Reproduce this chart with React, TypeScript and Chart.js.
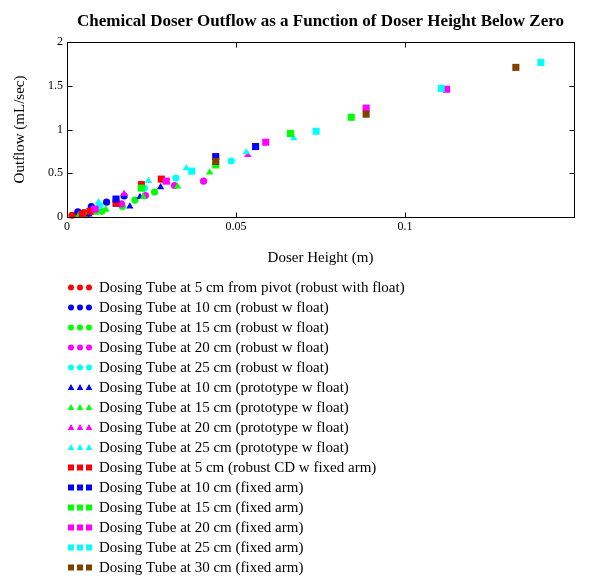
import React, { useEffect, useRef } from "react";
import { Chart, registerables } from "chart.js";

Chart.register(...registerables);

type Pt = { x: number; y: number };
const P = (arr: number[][]): Pt[] => arr.map(([x, y]) => ({ x, y }));

const seriesLabels = [
  "Dosing Tube at 5 cm from pivot (robust with float)",
  "Dosing Tube at 10 cm (robust w float)",
  "Dosing Tube at 15 cm (robust w float)",
  "Dosing Tube at 20 cm (robust w float)",
  "Dosing Tube at 25 cm (robust w float)",
  "Dosing Tube at 10 cm (prototype w float)",
  "Dosing Tube at 15 cm (prototype w float)",
  "Dosing Tube at 20 cm (prototype w float)",
  "Dosing Tube at 25 cm (prototype w float)",
  "Dosing Tube at 5 cm (robust CD w fixed arm)",
  "Dosing Tube at 10 cm (fixed arm)",
  "Dosing Tube at 15 cm (fixed arm)",
  "Dosing Tube at 20 cm (fixed arm)",
  "Dosing Tube at 25 cm (fixed arm)",
  "Dosing Tube at 30 cm (fixed arm)",
];

const seriesColors = [
  "#ff0000", "#0000ff", "#00ff00", "#ff00ff", "#00ffff",
  "#0000ff", "#00ff00", "#ff00ff", "#00ffff",
  "#ff0000", "#0000ff", "#00ff00", "#ff00ff", "#00ffff", "#804000",
];

const seriesShapes = [
  "circle", "circle", "circle", "circle", "circle",
  "triangle", "triangle", "triangle", "triangle",
  "rect", "rect", "rect", "rect", "rect", "rect",
];

const red5Float = P([[0.0015, 0.02], [0.003, 0.03], [0.005, 0.05], [0.007, 0.07]]);
const blue10Float = P([[0.0032, 0.06], [0.0058, 0.03], [0.0072, 0.12], [0.0117, 0.17], [0.0169, 0.24]]);
const green15Float = P([[0.0053, 0.025], [0.0103, 0.065], [0.0164, 0.12], [0.0201, 0.194], [0.0259, 0.285]]);
const magenta20Float = P([[0.0083, 0.085], [0.0161, 0.15], [0.0232, 0.245], [0.0318, 0.36], [0.0404, 0.41]]);
const cyan25Float = P([[0.0097, 0.13], [0.0229, 0.33], [0.0322, 0.445], [0.0486, 0.64]]);
const blue10Proto = P([[0.0065, 0.03], [0.0145, 0.14], [0.0186, 0.12], [0.0216, 0.23], [0.0277, 0.34]]);
const green15Proto = P([[0.0035, 0.02], [0.0085, 0.05], [0.0115, 0.085], [0.0226, 0.23], [0.0327, 0.35], [0.0422, 0.51]]);
const magenta20Proto = P([[0.0075, 0.09], [0.0169, 0.265], [0.0535, 0.71]]);
const cyan25Proto = P([[0.0093, 0.17], [0.0241, 0.413], [0.0353, 0.558], [0.053, 0.74], [0.0671, 0.9]]);
const red5Fixed = P([[0.0045, 0.03], [0.0068, 0.065], [0.0145, 0.16], [0.022, 0.37], [0.0279, 0.433]]);
const blue10Fixed = P([[0.0145, 0.205], [0.044, 0.69], [0.0558, 0.805]]);
const green15Fixed = P([[0.022, 0.33], [0.044, 0.595], [0.0661, 0.955], [0.0841, 1.14]]);
const magenta20Fixed = P([[0.0083, 0.09], [0.0294, 0.41], [0.0588, 0.855], [0.0885, 1.245], [0.1123, 1.46]]);
const cyan25Fixed = P([[0.0369, 0.524], [0.0737, 0.98], [0.1107, 1.47], [0.1402, 1.765]]);
const brown30Fixed = P([[0.044, 0.635], [0.0885, 1.175], [0.1328, 1.71]]);

const seriesData = [
  red5Float, blue10Float, green15Float, magenta20Float, cyan25Float,
  blue10Proto, green15Proto, magenta20Proto, cyan25Proto,
  red5Fixed, blue10Fixed, green15Fixed, magenta20Fixed, cyan25Fixed, brown30Fixed,
];

const xTicks = [0, 0.05, 0.1];
const yTicks = [0, 0.5, 1, 1.5, 2];

const chartTitle = "Chemical Doser Outflow as a Function of Doser Height Below Zero";
const xTitle = "Doser Height (m)";
const yTitle = "Outflow (mL/sec)";

const FONT = "'Liberation Serif', 'Times New Roman', serif";

function drawShape(ctx: CanvasRenderingContext2D, shape: string, x: number, y: number) {
  ctx.beginPath();
  if (shape === "circle") {
    ctx.arc(x, y, 3, 0, Math.PI * 2);
  } else if (shape === "triangle") {
    ctx.moveTo(x, y - 3.5);
    ctx.lineTo(x + 3.3, y + 2.5);
    ctx.lineTo(x - 3.3, y + 2.5);
    ctx.closePath();
  } else {
    ctx.rect(x - 3, y - 3, 6, 6);
  }
  ctx.fill();
}

const decorPlugin = {
  id: "decor",
  afterDatasetsDraw(chart: any) {
    const { ctx, chartArea } = chart;
    const xs = chart.scales.x;
    const ys = chart.scales.y;
    const l = Math.round(chartArea.left) + 0.5;
    const r = Math.round(chartArea.right) + 0.5;
    const t = Math.round(chartArea.top) + 0.5;
    const b = Math.round(chartArea.bottom) + 0.5;
    ctx.save();
    ctx.strokeStyle = "#000";
    ctx.lineWidth = 1;
    ctx.strokeRect(l, t, r - l, b - t);
    ctx.beginPath();
    xTicks.forEach((v) => {
      const px = Math.round(xs.getPixelForValue(v)) + 0.5;
      ctx.moveTo(px, b);
      ctx.lineTo(px, b - 5);
      ctx.moveTo(px, t);
      ctx.lineTo(px, t + 5);
    });
    yTicks.forEach((v) => {
      const py = Math.round(ys.getPixelForValue(v)) + 0.5;
      ctx.moveTo(l, py);
      ctx.lineTo(l + 5, py);
      ctx.moveTo(r, py);
      ctx.lineTo(r - 5, py);
    });
    ctx.stroke();
    ctx.restore();
  },
  afterDraw(chart: any) {
    const { ctx, chartArea } = chart;
    ctx.save();
    ctx.fillStyle = "#000";
    ctx.font = `bold 17px ${FONT}`;
    ctx.textAlign = "center";
    ctx.textBaseline = "middle";
    ctx.fillText(chartTitle, (chartArea.left + chartArea.right) / 2, 22);

    ctx.font = `15px ${FONT}`;
    ctx.textAlign = "left";
    seriesLabels.forEach((label, i) => {
      const y = 287.5 + i * 20;
      ctx.fillStyle = seriesColors[i];
      [71, 80, 89].forEach((x) => drawShape(ctx, seriesShapes[i], x, y));
      ctx.fillStyle = "#000";
      ctx.fillText(label, 99, y + 0.5);
    });
    ctx.restore();
  },
};

export default function App() {
  const ref = useRef<HTMLCanvasElement | null>(null);
  useEffect(() => {
    if (!ref.current) return;
    const N = seriesData.length;
    const chart = new Chart(ref.current, {
      type: "scatter",
      data: {
        datasets: seriesData.map((d, i) => ({
          label: seriesLabels[i],
          data: d,
          backgroundColor: seriesColors[i],
          borderColor: seriesColors[i],
          borderWidth: 0,
          pointStyle: seriesShapes[i] as any,
          pointRadius: seriesShapes[i] === "rect" ? 5 : seriesShapes[i] === "triangle" ? 4.2 : 3.6,
          pointHoverRadius: 5,
          order: N - i,
          clip: false as any,
        })),
      },
      options: {
        responsive: false,
        animation: false,
        devicePixelRatio: 1,
        layout: { padding: { top: 42, right: 25, bottom: 318, left: 0 } },
        plugins: {
          legend: { display: false },
          title: { display: false },
          tooltip: { enabled: false },
        },
        scales: {
          x: {
            type: "linear",
            min: 0,
            max: 0.15,
            afterFit: (s: any) => { s.height = 50; },
            afterBuildTicks: (s: any) => { s.ticks = xTicks.map((v) => ({ value: v })); },
            grid: { display: false, drawTicks: false },
            border: { display: false },
            ticks: {
              padding: 3,
              color: "#000",
              font: { family: FONT, size: 12 },
              callback: (v: any) => String(v),
              maxRotation: 0,
            },
            title: {
              display: true,
              text: xTitle,
              color: "#000",
              font: { family: FONT, size: 15 },
              padding: { top: 0, bottom: 0 },
            },
          },
          y: {
            type: "linear",
            min: 0,
            max: 2,
            afterFit: (s: any) => { s.width = 67; },
            afterBuildTicks: (s: any) => { s.ticks = yTicks.map((v) => ({ value: v })); },
            grid: { display: false, drawTicks: false },
            border: { display: false },
            ticks: {
              padding: 4,
              color: "#000",
              font: { family: FONT, size: 12 },
              callback: (v: any) => String(v),
            },
            title: {
              display: true,
              text: yTitle,
              color: "#000",
              font: { family: FONT, size: 15 },
              padding: { top: 11, bottom: 0 },
            },
          },
        },
      },
      plugins: [decorPlugin],
    });
    return () => chart.destroy();
  }, []);
  return (
    <div style={{ position: "fixed", left: 0, top: 0, width: 599, height: 585, background: "#fff" }}>
      <canvas ref={ref} width={599} height={585} style={{ display: "block" }} />
    </div>
  );
}
